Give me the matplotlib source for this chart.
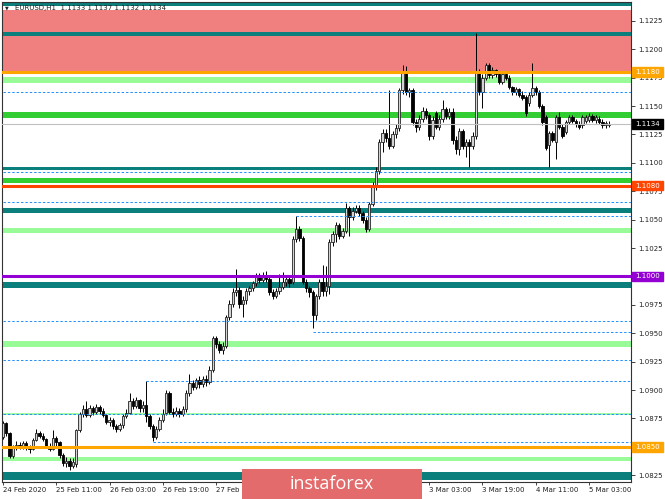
import matplotlib
matplotlib.use("Agg")
import matplotlib.pyplot as plt
from matplotlib.patches import Rectangle
import numpy as np

# EURUSD H1, one candle per hour
opens = [1.0859, 1.0871, 1.0862, 1.0842, 1.0849, 1.0852, 1.0850, 1.0853, 1.0850, 1.0848,
         1.0856, 1.0862, 1.0860, 1.0857, 1.0851, 1.0848, 1.0858, 1.0854, 1.0843, 1.0836,
         1.0838, 1.0833, 1.0835, 1.0865, 1.0879, 1.0883, 1.0878, 1.0884, 1.0881, 1.0885,
         1.0882, 1.0878, 1.0872, 1.0874, 1.0868, 1.0866, 1.0869, 1.0877, 1.0880, 1.0890,
         1.0886, 1.0891, 1.0884, 1.0887, 1.0877, 1.0868, 1.0859, 1.0866, 1.0874, 1.0880,
         1.0897, 1.0881, 1.0879, 1.0882, 1.0879, 1.0883, 1.0897, 1.0906, 1.0903, 1.0909,
         1.0905, 1.0910, 1.0907, 1.0918, 1.0946, 1.0941, 1.0935, 1.0939, 1.0964, 1.0976,
         1.0986, 1.0988, 1.0976, 1.0979, 1.0987, 1.0990, 1.0994, 1.1000, 1.0997, 1.1001,
         1.0998, 1.0986, 1.0983, 1.0987, 1.0991, 1.0995, 1.0998, 1.0995, 1.1033, 1.1042,
         1.1034, 1.0995, 1.0990, 1.0986, 1.0966, 1.0983, 1.0995, 1.0987, 1.0992, 1.1030,
         1.1037, 1.1045, 1.1036, 1.1040, 1.1060, 1.1052, 1.1058, 1.1060, 1.1056, 1.1050,
         1.1042, 1.1064, 1.1080, 1.1093, 1.1118, 1.1126, 1.1122, 1.1115, 1.1125, 1.1131,
         1.1164, 1.1181, 1.1162, 1.1164, 1.1136, 1.1132, 1.1139, 1.1146, 1.1142, 1.1124,
         1.1144, 1.1132, 1.1139, 1.1147, 1.1141, 1.1145, 1.1120, 1.1112, 1.1128, 1.1115,
         1.1118, 1.1115, 1.1124, 1.1179, 1.1162, 1.1175, 1.1186, 1.1177, 1.1182, 1.1178,
         1.1171, 1.1178, 1.1175, 1.1167, 1.1162, 1.1165, 1.1160, 1.1158, 1.1153, 1.1160,
         1.1166, 1.1162, 1.1150, 1.1140, 1.1116, 1.1126, 1.1118, 1.1140, 1.1132, 1.1127,
         1.1136, 1.1140, 1.1137, 1.1134, 1.1133, 1.1137, 1.1138, 1.1141, 1.1138, 1.1139,
         1.1136, 1.1133, 1.1133]
highs = [1.0873, 1.0872, 1.0863, 1.0852, 1.0855, 1.0854, 1.0855, 1.0855, 1.0852, 1.0858,
         1.0866, 1.0864, 1.0862, 1.0858, 1.0853, 1.0865, 1.0860, 1.0855, 1.0845, 1.0841,
         1.0840, 1.0840, 1.0866, 1.0881, 1.0887, 1.0890, 1.0887, 1.0886, 1.0888, 1.0887,
         1.0884, 1.0879, 1.0876, 1.0875, 1.0870, 1.0871, 1.0879, 1.0883, 1.0897, 1.0893,
         1.0894, 1.0892, 1.0890, 1.0908, 1.0879, 1.0870, 1.0868, 1.0876, 1.0883, 1.0900,
         1.0899, 1.0884, 1.0885, 1.0884, 1.0886, 1.0900, 1.0914, 1.0909, 1.0911, 1.0912,
         1.0912, 1.0913, 1.0921, 1.0948, 1.0948, 1.0943, 1.0942, 1.0966, 1.0979, 1.0990,
         1.1007, 1.0991, 1.0983, 1.0990, 1.0992, 1.0996, 1.1003, 1.1003, 1.1004, 1.1005,
         1.1000, 1.0989, 1.0990, 1.1002, 1.1004, 1.1001, 1.1001, 1.1036, 1.1053, 1.1044,
         1.1036, 1.0998, 1.0992, 1.0988, 1.0985, 1.0998, 1.1010, 1.1009, 1.1033, 1.1040,
         1.1048, 1.1047, 1.1043, 1.1065, 1.1062, 1.1061, 1.1063, 1.1063, 1.1058, 1.1052,
         1.1066, 1.1083, 1.1096, 1.1121, 1.1130, 1.1130, 1.1164, 1.1128, 1.1134, 1.1166,
         1.1186, 1.1185, 1.1166, 1.1166, 1.1139, 1.1142, 1.1149, 1.1148, 1.1144, 1.1141,
         1.1146, 1.1142, 1.1155, 1.1149, 1.1148, 1.1148, 1.1124, 1.1131, 1.1130, 1.1121,
         1.1121, 1.1127, 1.1214, 1.1183, 1.1178, 1.1188, 1.1188, 1.1184, 1.1183, 1.1180,
         1.1180, 1.1180, 1.1177, 1.1168, 1.1167, 1.1166, 1.1163, 1.1160, 1.1162, 1.1188,
         1.1168, 1.1164, 1.1152, 1.1142, 1.1128, 1.1128, 1.1142, 1.1145, 1.1134, 1.1138,
         1.1142, 1.1142, 1.1139, 1.1137, 1.1142, 1.1142, 1.1144, 1.1143, 1.1142, 1.1141,
         1.1139, 1.1137, 1.1137]
lows = [1.0857, 1.0860, 1.0840, 1.0840, 1.0847, 1.0848, 1.0848, 1.0847, 1.0845, 1.0847,
        1.0855, 1.0858, 1.0855, 1.0849, 1.0846, 1.0847, 1.0850, 1.0840, 1.0833, 1.0832,
        1.0830, 1.0831, 1.0832, 1.0863, 1.0876, 1.0876, 1.0876, 1.0878, 1.0879, 1.0879,
        1.0876, 1.0870, 1.0868, 1.0866, 1.0863, 1.0864, 1.0867, 1.0875, 1.0879, 1.0883,
        1.0884, 1.0881, 1.0881, 1.0872, 1.0866, 1.0855, 1.0857, 1.0864, 1.0872, 1.0878,
        1.0879, 1.0876, 1.0877, 1.0876, 1.0877, 1.0881, 1.0895, 1.0900, 1.0901, 1.0902,
        1.0903, 1.0904, 1.0905, 1.0916, 1.0937, 1.0933, 1.0932, 1.0937, 1.0962, 1.0973,
        1.0983, 1.0972, 1.0964, 1.0976, 1.0984, 1.0987, 1.0992, 1.0994, 1.0995, 1.0995,
        1.0984, 1.0980, 1.0981, 1.0985, 1.0989, 1.0992, 1.0991, 1.0993, 1.1030, 1.1031,
        1.0993, 1.0986, 1.0982, 1.0955, 1.0962, 1.0980, 1.0983, 1.0983, 1.0985, 1.1027,
        1.1030, 1.1033, 1.1034, 1.1038, 1.1036, 1.1050, 1.1056, 1.1053, 1.1047, 1.1039,
        1.1040, 1.1062, 1.1076, 1.1090, 1.1110, 1.1118, 1.1112, 1.1113, 1.1122, 1.1128,
        1.1161, 1.1160, 1.1158, 1.1133, 1.1127, 1.1129, 1.1136, 1.1139, 1.1120, 1.1121,
        1.1130, 1.1129, 1.1136, 1.1139, 1.1139, 1.1117, 1.1108, 1.1107, 1.1112, 1.1105,
        1.1096, 1.1112, 1.1121, 1.1160, 1.1148, 1.1173, 1.1175, 1.1175, 1.1176, 1.1169,
        1.1169, 1.1173, 1.1165, 1.1160, 1.1160, 1.1158, 1.1155, 1.1141, 1.1150, 1.1158,
        1.1160, 1.1148, 1.1133, 1.1111, 1.1096, 1.1118, 1.1103, 1.1130, 1.1122, 1.1125,
        1.1134, 1.1135, 1.1132, 1.1130, 1.1131, 1.1135, 1.1136, 1.1136, 1.1135, 1.1134,
        1.1131, 1.1131, 1.1132]
closes = [1.0871, 1.0862, 1.0842, 1.0849, 1.0852, 1.0850, 1.0853, 1.0850, 1.0848, 1.0856,
          1.0862, 1.0860, 1.0857, 1.0851, 1.0848, 1.0858, 1.0854, 1.0843, 1.0836, 1.0838,
          1.0833, 1.0837, 1.0865, 1.0879, 1.0883, 1.0878, 1.0884, 1.0881, 1.0885, 1.0882,
          1.0878, 1.0872, 1.0874, 1.0868, 1.0866, 1.0869, 1.0877, 1.0880, 1.0890, 1.0886,
          1.0891, 1.0884, 1.0887, 1.0877, 1.0868, 1.0859, 1.0866, 1.0874, 1.0879, 1.0897,
          1.0881, 1.0879, 1.0882, 1.0879, 1.0883, 1.0897, 1.0906, 1.0903, 1.0909, 1.0905,
          1.0910, 1.0907, 1.0918, 1.0946, 1.0941, 1.0935, 1.0939, 1.0964, 1.0976, 1.0986,
          1.0988, 1.0976, 1.0979, 1.0987, 1.0990, 1.0994, 1.1000, 1.0997, 1.1001, 1.0998,
          1.0986, 1.0983, 1.0987, 1.0991, 1.0995, 1.0998, 1.0994, 1.1033, 1.1042, 1.1034,
          1.0995, 1.0990, 1.0986, 1.0966, 1.0983, 1.0995, 1.0987, 1.0992, 1.1030, 1.1037,
          1.1045, 1.1036, 1.1040, 1.1060, 1.1052, 1.1058, 1.1060, 1.1056, 1.1050, 1.1042,
          1.1064, 1.1080, 1.1093, 1.1118, 1.1126, 1.1122, 1.1115, 1.1125, 1.1131, 1.1164,
          1.1181, 1.1162, 1.1164, 1.1136, 1.1132, 1.1139, 1.1146, 1.1142, 1.1124, 1.1138,
          1.1132, 1.1139, 1.1147, 1.1141, 1.1145, 1.1120, 1.1112, 1.1128, 1.1115, 1.1118,
          1.1115, 1.1124, 1.1179, 1.1162, 1.1175, 1.1186, 1.1177, 1.1182, 1.1178, 1.1171,
          1.1178, 1.1175, 1.1167, 1.1162, 1.1165, 1.1160, 1.1157, 1.1144, 1.1160, 1.1166,
          1.1162, 1.1150, 1.1136, 1.1113, 1.1126, 1.1120, 1.1140, 1.1132, 1.1124, 1.1136,
          1.1140, 1.1137, 1.1134, 1.1132, 1.1140, 1.1140, 1.1141, 1.1138, 1.1140, 1.1136,
          1.1133, 1.1135, 1.1134]

# time axis labels (every 16 bars); the ones under the watermark are not visible
tick_bars = [0, 16, 32, 48, 64, 80, 96, 112, 128, 144, 160, 176]
tick_labels = ["24 Feb 2020", "25 Feb 11:00", "26 Feb 03:00", "26 Feb 19:00", "27 Feb 11:00",
               "", "", "", "3 Mar 03:00", "3 Mar 19:00", "4 Mar 11:00", "5 Mar 03:00"]
price_ticks = [1.0825, 1.0850, 1.0875, 1.0900, 1.0925, 1.0950, 1.0975, 1.1000, 1.1025,
               1.1050, 1.1075, 1.1100, 1.1125, 1.1150, 1.1175, 1.1200, 1.1225]

# filled zones (bottom, top, colour)
zone_lo = [1.12381, 1.11809, 1.12120, 1.11703, 1.11395, 1.10937, 1.10826, 1.10559,
           1.10383, 1.09898, 1.09379, 1.08378, 1.08209]
zone_hi = [1.12416, 1.12346, 1.12152, 1.11756, 1.11448, 1.10966, 1.10870, 1.10603,
           1.10427, 1.09951, 1.09432, 1.08411, 1.08279]
zone_col = ["#0b7f7b", "#f08080", "#0b7f7b", "#98fb98", "#32cd32", "#0b7f7b", "#32cd32",
            "#0b7f7b", "#98fb98", "#0b7f7b", "#98fb98", "#98fb98", "#0b7f7b"]

# dotted swing levels and the bar they start from
dash_levels = [1.11624, 1.10920, 1.10656, 1.10532, 1.09608, 1.09511, 1.09265, 1.09080,
               1.08790, 1.08546]
dash_start = [0, 0, 0, 88, 0, 93, 0, 43, 0, 45]

# key levels with price tags on the axis
key_levels = [1.1180, 1.1080, 1.1000, 1.0850]
key_colors = ["#ffa500", "#ff4500", "#9400d3", "#ffa500"]
bid = 1.1134

fig = plt.figure(figsize=(6.65, 4.99), dpi=100)
ax = fig.add_axes([2 / 665, 17 / 499, 629 / 665, 480.5 / 499])
x_left, x_right = -0.3, 188.6
ax.set_xlim(x_left, x_right)
ax.set_ylim(1.081908, 1.124206)

for lo, hi, col in zip(zone_lo, zone_hi, zone_col):
    ax.axhspan(lo, hi, color=col, lw=0, zorder=1)
ax.axhline(1.0879, color="#98fb98", lw=1.3, zorder=1)

# candles
idx = np.arange(len(closes))
o, h, l, c = map(np.array, (opens, highs, lows, closes))
up = c >= o
body_lo = np.minimum(o, c)
body_h = np.maximum(np.abs(c - o), 0.00003)
ax.vlines(idx, l, h, color="black", lw=0.7, zorder=3)
ax.bar(idx[up], body_h[up], bottom=body_lo[up], width=0.7, color="#d4d4d4",
       edgecolor="#222222", linewidth=0.6, zorder=4)
ax.bar(idx[~up], body_h[~up], bottom=body_lo[~up], width=0.7, color="black",
       edgecolor="black", linewidth=0.6, zorder=4)

for lvl, start in zip(dash_levels, dash_start):
    ax.hlines(lvl, max(start, x_left), x_right, color="#1e90ff", lw=0.7,
              linestyles=(0, (2.5, 2.0)), zorder=5)
for lvl, col in zip(key_levels, key_colors):
    ax.axhline(lvl, color=col, lw=2.2, zorder=5)
ax.axhline(bid, color="#c0c0c0", lw=0.8, zorder=5)

# axes look
for s in ax.spines.values():
    s.set_color("#333333")
    s.set_linewidth(0.8)
ax.yaxis.tick_right()
ax.set_yticks(price_ticks)
# labels sitting under a price tag are hidden in the original
ax.set_yticklabels(["" if p in key_levels else f"{p:.4f}" for p in price_ticks])
ax.tick_params(axis="y", length=3, width=0.6, pad=2, labelsize=5, colors="#222222")
ax.set_xticks(tick_bars)
ax.set_xticklabels(tick_labels, ha="left")
ax.tick_params(axis="x", length=2, width=0.6, pad=1.5, labelsize=5, colors="#222222")

# price tags on the right axis
trans = ax.get_yaxis_transform()
box_w = 31 / 629
box_h = 0.00042
for lvl, col in zip(key_levels + [bid], key_colors + ["black"]):
    ax.add_patch(Rectangle((1.0015, lvl - box_h), box_w, 2 * box_h, transform=trans,
                           facecolor=col, edgecolor=col, clip_on=False, zorder=10))
    ax.text(1.0015 + box_w / 2, lvl, f"{lvl:.4f}", transform=trans, ha="center",
            va="center", fontsize=5, color="white", zorder=11)

# chart header
fig.text(5 / 665, 1 - 8 / 499, "\u25bc", fontsize=3.5, va="center", color="#222222")
fig.text(15 / 665, 1 - 8 / 499, "EURUSD,H1  1.1133 1.1137 1.1132 1.1134", fontsize=5,
         va="center", color="#222222")

# watermark
fig.patches.append(Rectangle((242 / 665, 0), 180 / 665, 30 / 499, transform=fig.transFigure,
                             facecolor="#e36b6b", edgecolor="none", zorder=20))
fig.text(332 / 665, 15 / 499, "instaforex", fontsize=13, color="white", ha="center",
         va="center", family="Open Sans", zorder=21)

fig.savefig("out.png", dpi=100)
